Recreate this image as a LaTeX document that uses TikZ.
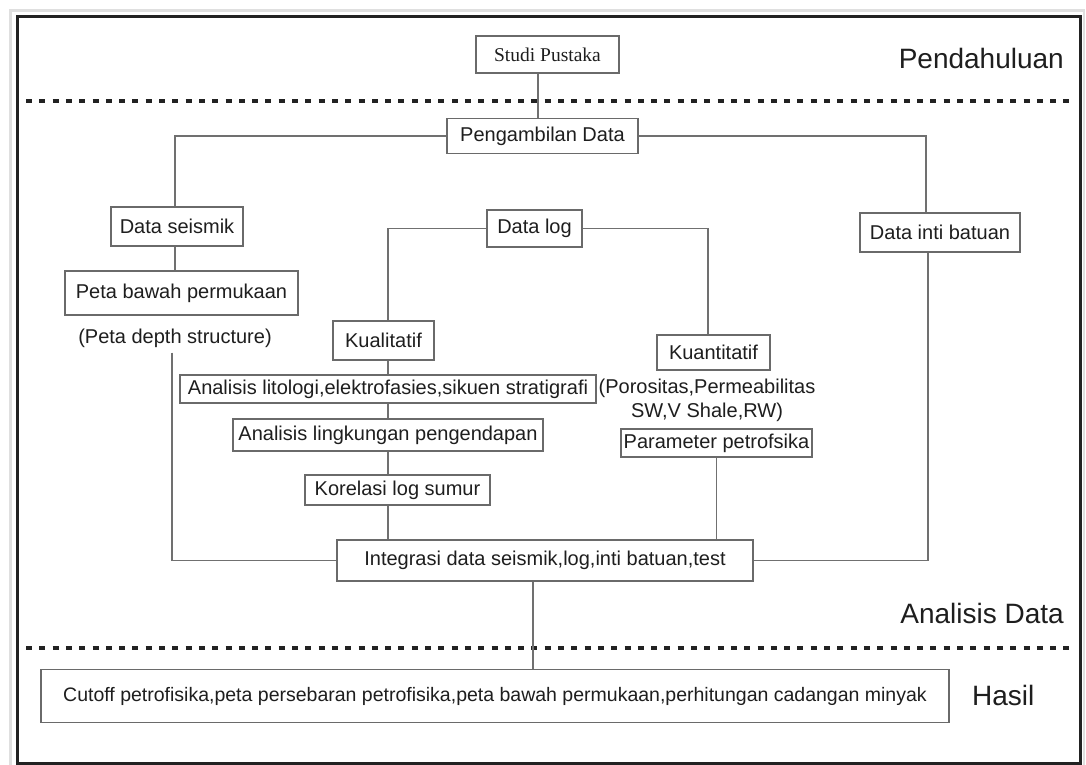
\documentclass[tikz,border=0pt]{standalone}
\usepackage{fontspec}
\setmainfont{Liberation Sans}
\newfontfamily\serifx{Liberation Serif}
\definecolor{boxgray}{HTML}{6A6A6A}
\definecolor{linegray}{HTML}{707070}
\definecolor{textc}{HTML}{1E1E1E}
\definecolor{framec}{HTML}{222222}
\begin{document}
\begin{tikzpicture}[x=1pt,y=-1pt,
  box/.style={draw=boxgray, line width=1.9pt, fill=white, inner sep=0pt, text=textc,
              font=\fontsize{20}{23}\selectfont},
  txt/.style={inner sep=0pt, text=textc, font=\fontsize{20}{24}\selectfont},
  conn/.style={draw=linegray, line width=1.7pt},
  lbl/.style={inner sep=0pt, text=textc, font=\fontsize{28}{32}\selectfont},
  dotline/.style={line width=4pt, dash pattern=on 6pt off 7.3pt, color=framec}]

\useasboundingbox[fill=white] (0,0) rectangle (1086,764);

% page border and frame
\draw[line width=2.5pt, color=gray!25] (10.5,10.5) rectangle (1084,775);
\draw[line width=3pt, color=framec] (17.5,16.5) rectangle (1080.5,763);

% dotted separators
\draw[dotline] (26,101) -- (1074,101);
\draw[dotline] (26,648) -- (1074,648);

% nodes
\node[box, minimum width=143pt, minimum height=37pt, font=\serifx\fontsize{19.5}{22}\selectfont] (sp) at (547.5,54.5) {Studi Pustaka};
\node[box, minimum width=191pt, minimum height=35pt] (pd) at (542.5,136) {Pengambilan Data};
\node[box, minimum width=132pt, minimum height=39pt] (ds) at (177,226.5) {Data seismik};
\node[box, minimum width=233pt, minimum height=44pt] (pbp) at (181.5,293) {Peta bawah permukaan};
\node[txt] (pds) at (175,338) {(Peta depth structure)};
\node[box, minimum width=95pt, minimum height=37pt] (dl) at (534.5,228.5) {Data log};
\node[box, minimum width=160pt, minimum height=39pt] (dib) at (940,232.5) {Data inti batuan};
\node[box, minimum width=101pt, minimum height=39pt] (kl) at (383.5,340.5) {Kualitatif};
\node[box, minimum width=113pt, minimum height=35pt] (kn) at (713.5,352.5) {Kuantitatif};
\node[box, minimum width=416pt, minimum height=28pt] (al) at (388,389) {Analisis litologi,elektrofasies,sikuen stratigrafi};
\node[box, minimum width=310pt, minimum height=32pt] (alp) at (388,435) {Analisis lingkungan pengendapan};
\node[box, minimum width=185pt, minimum height=30pt] (kls) at (397.5,490) {Korelasi log sumur};
\node[txt, align=center] (por) at (707,400) {(Porositas,Permeabilitas\\SW,V Shale,RW)};
\node[box, minimum width=191pt, minimum height=28pt] (pp) at (716.5,443) {Parameter petrofsika};
\node[box, minimum width=416pt, minimum height=41pt] (int) at (545,560.5) {Integrasi data seismik,log,inti batuan,test};
\node[box, minimum width=908pt, minimum height=53pt, font=\fontsize{19.5}{23}\selectfont] (has) at (495,696) {Cutoff petrofisika,peta persebaran petrofisika,peta bawah permukaan,perhitungan cadangan minyak};

% section labels
\node[lbl, anchor=east] (lp) at (1064,58) {Pendahuluan};
\node[lbl, anchor=east] (la) at (1064,613) {Analisis Data};
\node[lbl, anchor=west] (lh) at (972,695) {Hasil};

% connectors
\coordinate (spb) at ([xshift=-9.5pt]sp.south);
\draw[conn] (spb) -- (spb |- pd.north);
\draw[conn] (pd.west) -| ([xshift=-2pt]ds.north);
\draw[conn] (pd.east) -| ([xshift=-14pt]dib.north);
\coordinate (dsb) at ([xshift=-2pt]ds.south);
\draw[conn] (dsb) -- (dsb |- pbp.north);
\coordinate (pdsb) at ([xshift=-3pt,yshift=-5pt]pds.south);
\draw[conn] (pdsb) |- (int.west);
\draw[conn] ([xshift=-12pt]dib.south) |- (int.east);
\draw[conn] (dl.west) -| ([xshift=4.5pt]kl.north);
\draw[conn] (dl.east) -| ([xshift=-5.5pt]kn.north);
\draw[conn] ([xshift=4.5pt]kl.south) -- (al.north);
\draw[conn] (al.south) -- (alp.north);
\draw[conn] (alp.south) -- ([xshift=-9.5pt]kls.north);
\coordinate (klsb) at ([xshift=-9.5pt]kls.south);
\draw[conn] (klsb) -- (klsb |- int.north);
\draw[conn] (pp.south) -- (pp.south |- int.north);
\coordinate (intb) at ([xshift=-12pt]int.south);
\draw[conn] (intb) -- (intb |- has.north);
\end{tikzpicture}
\end{document}
